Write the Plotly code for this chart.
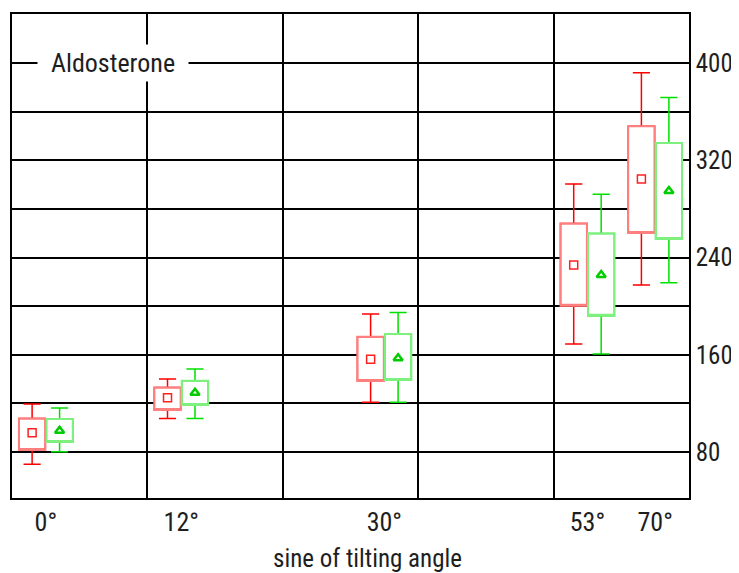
import plotly.graph_objects as go

# ---- data ----
angle_labels = ["0°", "12°", "30°", "53°", "70°"]
group_pos = [0.05, 0.25, 0.55, 0.85, 0.95]

red_low = [69.9, 107.7, 120.9, 168.8, 217.4]
red_q1 = [81.6, 114.6, 138.4, 200.4, 260.3]
red_q3 = [107.7, 133.2, 174.9, 268.1, 348.1]
red_high = [119.5, 140.1, 193.5, 300.5, 392.0]
red_mid = [95.9, 124.7, 156.3, 233.8, 304.7]

green_low = [80.2, 107.7, 120.9, 160.6, 219.3]
green_q1 = [88.2, 118.7, 139.2, 192.1, 255.2]
green_q3 = [107.1, 138.7, 177.1, 259.9, 334.2]
green_high = [116.2, 148.3, 194.9, 292.2, 371.8]
green_mid = [97.5, 128.8, 157.1, 225.6, 294.7]

y_ticks = [80, 160, 240, 320, 400]

# ---- style ----
FONT = "Liberation Sans Narrow, Arial Narrow, Roboto Condensed, DejaVu Sans Condensed, Liberation Sans, Arial, sans-serif"
OFF = 0.0203
BW = 0.039

red_x = [p - OFF for p in group_pos]
green_x = [p + OFF for p in group_pos]

fig = go.Figure()


def add_group(xs, low, q1, q3, high, mid, wcol, bcol, mcol, symbol, msize, mlw):
    # whiskers (and box underneath)
    fig.add_trace(go.Box(
        x=xs, q1=q1, median=q1, q3=q3, lowerfence=low, upperfence=high,
        width=BW, whiskerwidth=0.65, boxpoints=False,
        line=dict(color=wcol, width=1.5), fillcolor="white",
        showlegend=False, hoverinfo="skip"))
    # box outline in lighter colour
    fig.add_trace(go.Box(
        x=xs, q1=q1, median=q1, q3=q3, lowerfence=q1, upperfence=q3,
        width=BW, whiskerwidth=0, boxpoints=False,
        line=dict(color=bcol, width=2), fillcolor="rgba(255,255,255,0)",
        showlegend=False, hoverinfo="skip"))
    fig.add_trace(go.Scatter(
        x=xs, y=mid, mode="markers",
        marker=dict(symbol=symbol, size=msize, color=mcol,
                    line=dict(color=mcol, width=mlw)),
        showlegend=False, hoverinfo="skip"))


add_group(red_x, red_low, red_q1, red_q3, red_high, red_mid,
          "#ff0000", "#ff7f7f", "#ff2020", "square-open", 8, 1.5)
add_group(green_x, green_low, green_q1, green_q3, green_high, green_mid,
          "#00e000", "#7df07d", "#00cc00", "triangle-up-open", 8, 2.5)

fig.update_layout(
    width=739, height=573,
    margin=dict(l=4, r=58, t=6, b=83, autoexpand=False),
    paper_bgcolor="white", plot_bgcolor="white",
    font=dict(family=FONT, size=26, color="#1e1e1e"),
    boxmode="overlay",
    xaxis=dict(
        range=[0, 1], tickmode="array", tickvals=group_pos, ticktext=angle_labels,
        showgrid=False, zeroline=False, ticks="", automargin=False,
        showline=True, mirror=True, linecolor="black", linewidth=1.5,
        minor=dict(tickmode="array", tickvals=[0.2, 0.4, 0.6, 0.8],
                   showgrid=True, gridcolor="black", gridwidth=1.5, ticks=""),
        ticklabelstandoff=0,
        tickfont=dict(size=26),
    ),
    yaxis=dict(
        side="right", range=[42.2, 440.4], automargin=False,
        tickmode="array", tickvals=y_ticks, ticktext=[str(v) for v in y_ticks],
        showgrid=True, gridcolor="black", gridwidth=1.5, zeroline=False, ticks="",
        showline=True, mirror=True, linecolor="black", linewidth=1.5,
        minor=dict(dtick=40, tick0=0, showgrid=True, gridcolor="black",
                   gridwidth=1.5, ticks=""),
        ticklabelstandoff=0,
        tickfont=dict(size=25),
    ),
    annotations=[
        dict(text="Aldosterone", xref="paper", yref="y", x=0.149, y=400,
             xanchor="center", yanchor="middle",
             showarrow=False, bgcolor="white", width=150, height=36, borderpad=0,
             font=dict(size=26, color="#1e1e1e")),
        dict(text="sine of tilting angle", xref="paper", yref="paper",
             x=0.525, y=-0.124, showarrow=False, xanchor="center", yanchor="middle",
             font=dict(size=25, color="#1e1e1e")),
    ],
)

fig.write_html("out.html")
